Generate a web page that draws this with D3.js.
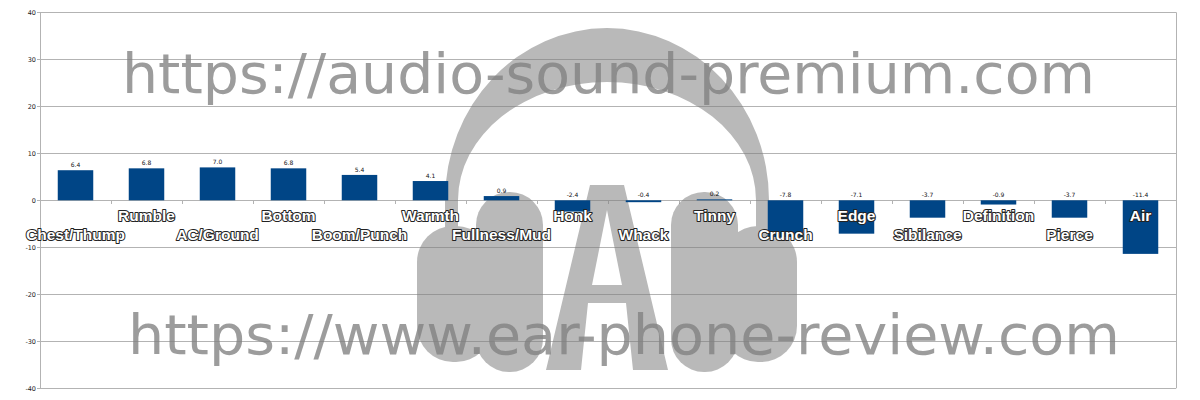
<!DOCTYPE html>
<html>
<head>
<meta charset="utf-8">
<script src="https://cdn.jsdelivr.net/npm/d3@7"></script>
<style>
  html, body { margin: 0; padding: 0; background: #fff; }
  svg { display: block; }
</style>
</head>
<body>
<svg id="chart" width="1200" height="400"></svg>
<script>
const categories = ["Chest/Thump", "Rumble", "AC/Ground", "Bottom", "Boom/Punch", "Warmth", "Fullness/Mud", "Honk", "Whack", "Tinny", "Crunch", "Edge", "Sibilance", "Definition", "Pierce", "Air"];
const values = [6.4, 6.8, 7.0, 6.8, 5.4, 4.1, 0.9, -2.4, -0.4, 0.2, -7.8, -7.1, -3.7, -0.9, -3.7, -11.4];
const yTicks = [-40, -30, -20, -10, 0, 10, 20, 30, 40];
const watermarks = ["https://audio-sound-premium.com", "https://www.ear-phone-review.com"];

const svg = d3.select("#chart");
const plotLeft = 40, plotRight = 1176, plotTop = 12.3, plotBottom = 388.3;

const x = d3.scaleBand().domain(categories).range([plotLeft, plotRight]).paddingInner(0.5).paddingOuter(0.25);
const y = d3.scaleLinear().domain([-40, 40]).range([plotBottom, plotTop]);
const step = x.step();

// gridlines
const grid = svg.append("g");
grid.selectAll("line.g").data(yTicks).join("line")
  .attr("x1", plotLeft - 3).attr("x2", plotRight)
  .attr("y1", d => Math.round(y(d)) + 0.5).attr("y2", d => Math.round(y(d)) + 0.5)
  .attr("stroke", "#b3b3b3").attr("stroke-width", 1);
grid.append("line").attr("x1", plotLeft + 0.5).attr("x2", plotLeft + 0.5).attr("y1", y(40)).attr("y2", y(-40)).attr("stroke", "#b3b3b3");
grid.append("line").attr("x1", plotRight + 0.5).attr("x2", plotRight + 0.5).attr("y1", y(40)).attr("y2", y(-40)).attr("stroke", "#b3b3b3");
grid.selectAll("line.t").data(d3.range(categories.length + 1)).join("line")
  .attr("x1", i => Math.round(plotLeft + i * step) + 0.5).attr("x2", i => Math.round(plotLeft + i * step) + 0.5)
  .attr("y1", Math.round(y(0))).attr("y2", Math.round(y(0)) + 4)
  .attr("stroke", "#b3b3b3");

// y tick labels
svg.append("g").selectAll("text").data(yTicks).join("text")
  .attr("x", 36).attr("y", d => y(d)).attr("dy", "0.35em")
  .attr("text-anchor", "end")
  .attr("font-family", "DejaVu Sans, sans-serif").attr("font-size", 6.5)
  .attr("fill", "#222")
  .text(d => d);

// watermark logo (headphones with A)
const wm = svg.append("g");
const logo = wm.append("g").attr("fill", "#808080").attr("opacity", 0.55);
const cx = 607;
logo.append("path").attr("fill-rule", "evenodd")
  .attr("d", `M445,240 L445,200 A162,172 0 0 1 769,200 L769,240 L756,240 L756,200 A149,118 0 0 0 458,200 L458,240 Z`);
const cupParts = [
  {x0: 417, x1: 492, y0: 226, y1: 362, r: 36},
  {x0: 476, x1: 543, y0: 192, y1: 372, r: 33}
];
const cupPath = (p) => {
  const {x0, x1, y0, y1, r} = p;
  return `M${x0 + r},${y0} L${x1 - r},${y0} A${r},${r} 0 0 1 ${x1},${y0 + r} L${x1},${y1 - r} A${r},${r} 0 0 1 ${x1 - r},${y1} L${x0 + r},${y1} A${r},${r} 0 0 1 ${x0},${y1 - r} L${x0},${y0 + r} A${r},${r} 0 0 1 ${x0 + r},${y0} Z`;
};
cupParts.forEach(p => {
  logo.append("path").attr("d", cupPath(p));
  logo.append("path").attr("d", cupPath({x0: 2 * cx - p.x1, x1: 2 * cx - p.x0, y0: p.y0, y1: p.y1, r: p.r}));
});
logo.append("path").attr("fill-rule", "evenodd")
  .attr("d", "M590,185 L624,185 L668,370 L633,370 L626,303 L588,303 L581,370 L546,370 Z M607,210 L622,285 L592,285 Z");

// watermark text
const wmText = [
  {t: watermarks[0], x0: 122, x1: 1095, base: 93},
  {t: watermarks[1], x0: 128, x1: 1120, base: 354}
];
wm.selectAll("text").data(wmText).join("text")
  .attr("x", d => d.x0).attr("y", d => d.base)
  .attr("textLength", d => d.x1 - d.x0).attr("lengthAdjust", "spacingAndGlyphs")
  .attr("font-family", "DejaVu Sans, sans-serif").attr("font-size", 55)
  .attr("fill", "#808080").attr("fill-opacity", 0.78)
  .text(d => d.t);

// bars
svg.append("g").selectAll("rect").data(values).join("rect")
  .attr("x", (d, i) => x(categories[i]))
  .attr("width", x.bandwidth())
  .attr("y", d => y(Math.max(0, d)))
  .attr("height", d => Math.abs(y(d) - y(0)))
  .attr("fill", "#004586");

// value labels
svg.append("g").selectAll("text").data(values).join("text")
  .attr("x", (d, i) => x(categories[i]) + x.bandwidth() / 2)
  .attr("y", d => d >= 0 ? y(d) - 3 : y(0) - 3.5)
  .attr("text-anchor", "middle")
  .attr("font-family", "DejaVu Sans, sans-serif").attr("font-size", 6)
  .attr("fill", "#111")
  .text(d => d.toFixed(1));

// category labels
svg.append("g").selectAll("text").data(categories).join("text")
  .attr("x", d => x(d) + x.bandwidth() / 2)
  .attr("y", (d, i) => i % 2 === 0 ? 239.5 : 221)
  .attr("text-anchor", "middle")
  .attr("font-family", "Liberation Sans, Arial, sans-serif").attr("font-weight", "bold").attr("font-size", 15.5)
  .attr("fill", "#fff").attr("stroke", "#222").attr("stroke-width", 2)
  .attr("paint-order", "stroke").attr("stroke-linejoin", "round")
  .text(d => d);
</script>
</body>
</html>
